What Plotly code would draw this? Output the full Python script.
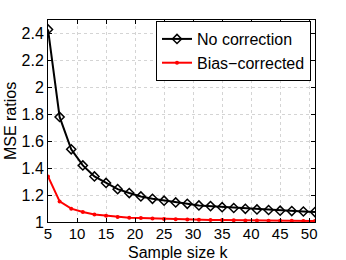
import plotly.graph_objects as go

k = list(range(5, 52, 2))
no_corr = [2.43, 1.78, 1.54, 1.42, 1.338, 1.29, 1.244, 1.215, 1.19, 1.172, 1.158, 1.145,
           1.135, 1.123, 1.118, 1.11, 1.104, 1.098, 1.093, 1.089, 1.084, 1.081, 1.078, 1.074]
bias_corr = [1.338, 1.153, 1.099, 1.074, 1.056, 1.047, 1.037, 1.032, 1.029, 1.026, 1.023, 1.02,
             1.018, 1.016, 1.015, 1.014, 1.013, 1.012, 1.011, 1.01, 1.009, 1.009, 1.008, 1.008]
x_ticks = list(range(5, 51, 5))
y_ticks = [1, 1.2, 1.4, 1.6, 1.8, 2, 2.2, 2.4]
y_labels = ["1", "1.2", "1.4", "1.6", "1.8", "2", "2.2", "2.4"]

font = "Liberation Sans, Arial, sans-serif"
fig = go.Figure()
fig.add_trace(go.Scatter(x=k, y=no_corr, mode="lines+markers", name="No correction",
                         line=dict(color="black", width=2),
                         marker=dict(symbol="diamond-open", size=7, color="black",
                                     line=dict(width=1.5, color="black"))))
fig.add_trace(go.Scatter(x=k, y=bias_corr, mode="lines+markers", name="Bias\u2212corrected",
                         line=dict(color="red", width=2),
                         marker=dict(symbol="circle", size=4, color="red")))

axis_common = dict(showline=True, linecolor="black", linewidth=1, mirror="ticks",
                   ticks="inside", ticklen=4, tickcolor="black", automargin=False,
                   showgrid=True, gridcolor="#d4d4d4", griddash="dot", gridwidth=1,
                   zeroline=False)
fig.update_xaxes(range=[5, 51], tickvals=x_ticks, ticklabelstandoff=-2,
                 tickfont=dict(family=font, size=15, color="black"), **axis_common)
fig.update_yaxes(range=[1, 2.5], tickvals=y_ticks, ticktext=y_labels,
                 tickfont=dict(family=font, size=16, color="black"), **axis_common)
fig.update_layout(width=346, height=260, margin=dict(l=48, r=31, t=20, b=38),
                  plot_bgcolor="white", paper_bgcolor="white",
                  font=dict(family=font, size=16, color="black"),
                  legend=dict(x=0.985, y=0.995, xanchor="right", yanchor="top",
                              bordercolor="black", borderwidth=1, bgcolor="white",
                              font=dict(family=font, size=16, color="black"),
                              tracegroupgap=0, itemwidth=30),
                  annotations=[
                      dict(text="Sample size k", xref="paper", yref="paper", x=0.49, y=-0.15,
                           xanchor="center", yanchor="middle", showarrow=False,
                           font=dict(family=font, size=16, color="black")),
                      dict(text="MSE ratios", xref="paper", yref="paper", x=-0.142, y=0.5,
                           xanchor="center", yanchor="middle", showarrow=False, textangle=-90,
                           font=dict(family=font, size=16, color="black")),
                  ])
fig.write_html("out.html", config={"displayModeBar": False},
               post_script="document.body.style.margin='0';document.body.style.padding='0';")
